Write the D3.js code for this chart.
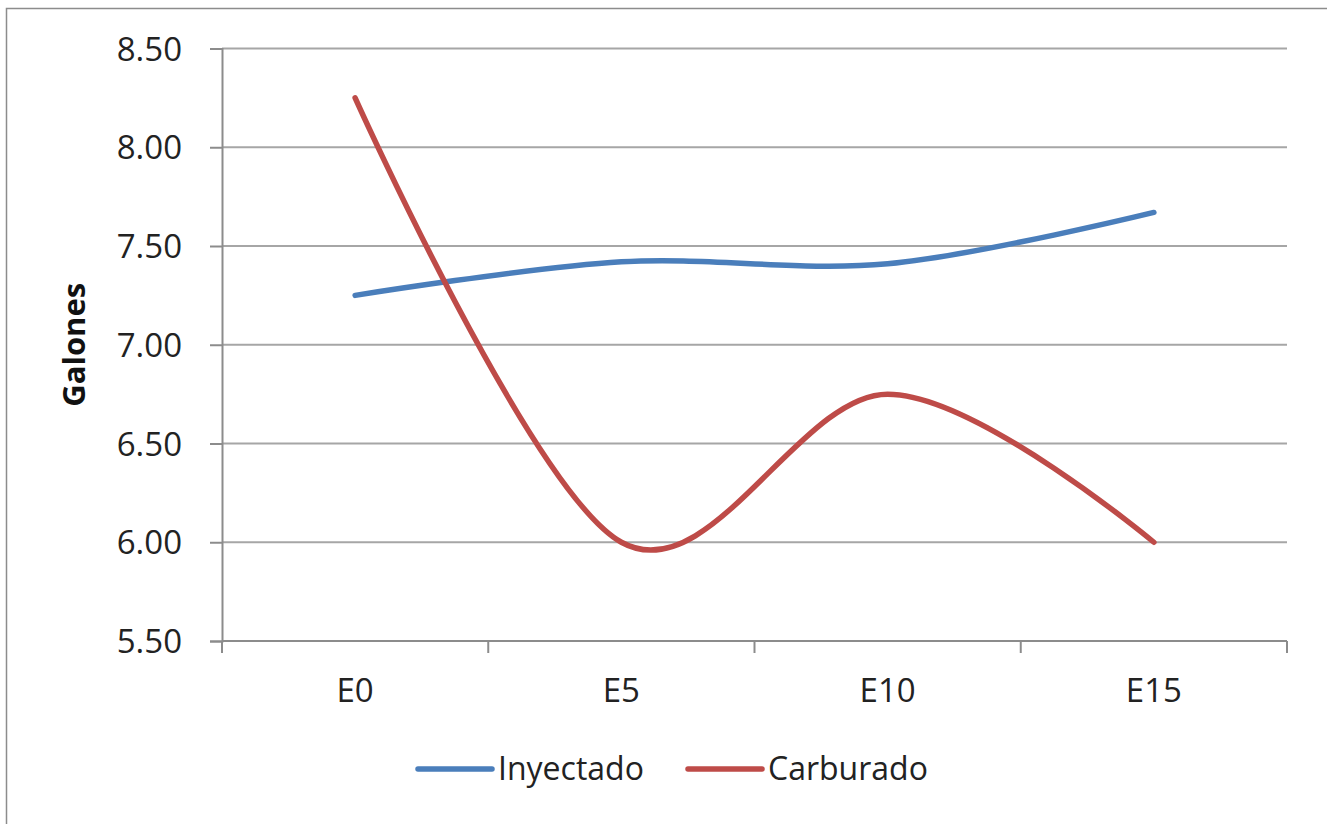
<!DOCTYPE html>
<html>
<head>
<meta charset="utf-8">
<script src="https://cdn.jsdelivr.net/npm/d3@7"></script>
<style>
  html, body { margin: 0; padding: 0; background: #fff; }
  svg { display: block; font-family: "Open Sans", sans-serif; }
</style>
</head>
<body>
<svg id="chart" width="1327" height="824"></svg>
<script>
// Fuel consumption per blend
const categories = ["E0", "E5", "E10", "E15"];
const inyectado = [7.25, 7.42, 7.41, 7.67];
const carburado = [8.25, 6.00, 6.75, 6.00];
const yTicks = [5.5, 6.0, 6.5, 7.0, 7.5, 8.0, 8.5];
const seriesNames = ["Inyectado", "Carburado"];
const seriesColors = ["#4A7EBB", "#BE4B48"];

const svg = d3.select("#chart");

// outer chart frame
svg.append("rect")
  .attr("x", 6.5).attr("y", 8.5)
  .attr("width", 1340).attr("height", 840)
  .attr("fill", "none").attr("stroke", "#8c8c8c").attr("stroke-width", 1.5);

const plot = { left: 222, right: 1287, top: 48.5, bottom: 641 };

const x = d3.scaleBand().domain(categories).range([plot.left, plot.right]);
const y = d3.scaleLinear().domain([5.5, 8.5]).range([plot.bottom, plot.top]);

// horizontal gridlines
svg.append("g")
  .selectAll("line")
  .data(yTicks.slice(1))
  .join("line")
  .attr("x1", plot.left).attr("x2", plot.right)
  .attr("y1", d => y(d)).attr("y2", d => y(d))
  .attr("stroke", "#a6a6a6").attr("stroke-width", 2);

// y axis
const yAxis = svg.append("g")
  .attr("transform", `translate(${plot.left},0)`)
  .call(d3.axisLeft(y).tickValues(yTicks).tickFormat(d3.format(".2f"))
    .tickSize(12).tickPadding(28));
yAxis.select(".domain").attr("stroke", "#8c8c8c").attr("stroke-width", 2);
yAxis.selectAll(".tick line").attr("stroke", "#8c8c8c").attr("stroke-width", 2);
yAxis.selectAll(".tick text")
  .attr("font-family", "Open Sans").attr("font-size", 33).attr("fill", "#222")
  .attr("dy", "0.35em");

// x axis with ticks between categories
const xAxisG = svg.append("g").attr("transform", `translate(0,${plot.bottom})`);
xAxisG.append("line")
  .attr("x1", plot.left).attr("x2", plot.right)
  .attr("stroke", "#8c8c8c").attr("stroke-width", 2);
const boundaries = categories.map(c => x(c)).concat([x(categories[categories.length - 1]) + x.bandwidth()]);
xAxisG.selectAll("line.tk")
  .data(boundaries)
  .join("line").attr("class", "tk")
  .attr("x1", d => d).attr("x2", d => d)
  .attr("y1", 0).attr("y2", 12)
  .attr("stroke", "#8c8c8c").attr("stroke-width", 2);
xAxisG.selectAll("text")
  .data(categories)
  .join("text")
  .attr("x", d => x(d) + x.bandwidth() / 2)
  .attr("y", 49)
  .attr("dy", "0.35em")
  .attr("text-anchor", "middle")
  .attr("font-size", 33).attr("fill", "#222")
  .text(d => d);

// y axis title
svg.append("text")
  .attr("transform", `translate(85,${(plot.top + plot.bottom) / 2}) rotate(-90)`)
  .attr("text-anchor", "middle")
  .attr("font-size", 31).attr("font-weight", "bold").attr("fill", "#111")
  .text("Galones");

// smoothed series lines
const line = d3.line()
  .x((d, i) => x(categories[i]) + x.bandwidth() / 2)
  .y(d => y(d))
  .curve(d3.curveCardinal.tension(0));

[inyectado, carburado].forEach((vals, i) => {
  svg.append("path")
    .datum(vals)
    .attr("d", line)
    .attr("fill", "none")
    .attr("stroke", seriesColors[i])
    .attr("stroke-width", 5.5)
    .attr("stroke-linecap", "round")
    .attr("stroke-linejoin", "round");
});

// legend
const legendX = [418, 688];
const legendY = 769;
seriesNames.forEach((name, i) => {
  const g = svg.append("g").attr("transform", `translate(${legendX[i]},${legendY})`);
  g.append("line")
    .attr("x1", 0).attr("x2", 74)
    .attr("stroke", seriesColors[i]).attr("stroke-width", 5.5)
    .attr("stroke-linecap", "round");
  g.append("text")
    .attr("x", 80).attr("dy", "0.35em")
    .attr("font-size", 32).attr("fill", "#222")
    .text(name);
});
</script>
</body>
</html>
